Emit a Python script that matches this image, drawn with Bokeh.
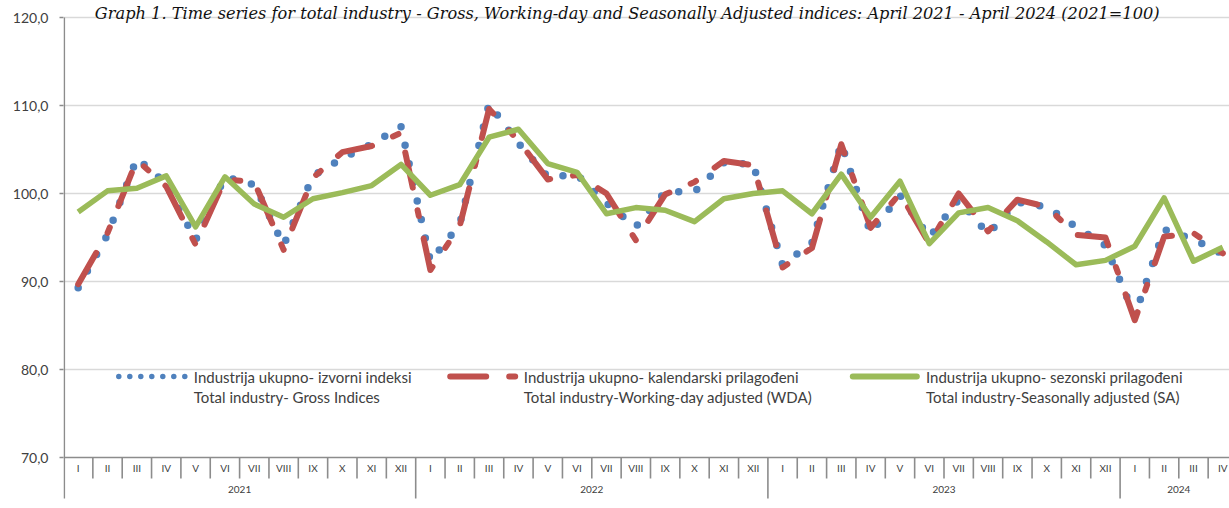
from bokeh.plotting import figure
from bokeh.models import Range1d, FixedTicker
from bokeh.core.properties import value
from bokeh.embed import file_html
from bokeh.resources import INLINE

# ---------------- data ----------------
years = ["2021", "2022", "2023", "2024"]
months_in_year = [12, 12, 12, 4]
roman = ["I", "II", "III", "IV", "V", "VI", "VII", "VIII", "IX", "X", "XI", "XII"]

gross = [89.3, 95.3, 104.0, 101.1, 94.7, 101.9, 101.0, 94.1, 102.0, 104.0, 105.6, 107.6,
         92.3, 96.5, 110.2, 105.7, 101.9, 102.1, 98.9, 96.2, 100.2, 100.2, 103.5, 103.3,
         91.9, 94.4, 105.7, 95.5, 99.8, 95.0, 99.3, 95.4, 99.0, 98.5, 96.2, 94.1,
         86.1, 95.9, 94.8, 93.1]
wda = [89.7, 95.5, 103.8, 100.8, 94.2, 101.6, 101.3, 93.6, 101.8, 104.7, 105.4, 106.9,
       91.3, 96.3, 109.6, 106.0, 101.6, 102.1, 100.0, 94.7, 99.9, 101.3, 103.7, 103.2,
       91.6, 93.8, 105.6, 96.1, 100.0, 94.3, 100.0, 95.7, 99.3, 98.5, 95.3, 95.0,
       85.6, 95.1, 95.5, 93.2]
sa = [97.9, 100.3, 100.6, 102.0, 96.2, 101.9, 98.8, 97.3, 99.4, 100.1, 100.9, 103.3,
      99.8, 101.0, 106.4, 107.3, 103.4, 102.4, 97.7, 98.4, 98.1, 96.8, 99.4, 100.0,
      100.3, 97.7, 102.2, 97.3, 101.4, 94.3, 97.8, 98.4, 96.9, 94.5, 91.9, 92.4,
      94.0, 99.5, 92.3, 93.9]

y_ticks = [70, 80, 90, 100, 110, 120]

title = ("Graph 1. Time series for total industry - Gross, Working-day and Seasonally "
         "Adjusted indices: April 2021 - April 2024 (2021=100)")
legend_l1 = ["Industrija ukupno- izvorni indeksi",
             "Industrija ukupno- kalendarski prilagođeni",
             "Industrija ukupno- sezonski prilagođeni"]
legend_l2 = ["Total industry- Gross Indices",
             "Total industry-Working-day adjusted (WDA)",
             "Total industry-Seasonally adjusted (SA)"]

BLUE, RED, GREEN = "#4f81bd", "#c0504d", "#9bbb59"
AXIS = "#8c8c8c"
GRID = "#d9d9d9"
TXT = "#404040"
FONT = "Lato"

# ---------------- geometry ----------------
W, H = 1229, 508
LEFT = 63
PX_X = 29.35          # pixels per month
PX_Y = 8.8            # pixels per index point
Y_TOP = 120 + 17 / PX_Y
Y_BOT = Y_TOP - H / PX_Y
X_END = -0.5 + (W - LEFT) / PX_X


def px_x(px):
    return -0.5 + (px - LEFT) / PX_X


def px_y(py):
    return Y_TOP - py / PX_Y


n = len(gross)
idx = list(range(n))

p = figure(width=W, height=H, output_backend="svg", toolbar_location=None,
           x_range=Range1d(-0.5, X_END), y_range=Range1d(Y_BOT, Y_TOP),
           x_axis_location=None, min_border_left=LEFT, min_border_right=0,
           min_border_top=0, min_border_bottom=0)
p.outline_line_color = None
p.background_fill_color = "white"
p.border_fill_color = "white"

# y axis
yax = p.yaxis[0]
yax.ticker = FixedTicker(ticks=y_ticks)
yax.major_label_overrides = {t: f"{t},0" for t in y_ticks}
yax.axis_line_color = None
yax.major_tick_out = 4
yax.major_tick_in = 0
yax.minor_tick_line_color = None
yax.major_tick_line_color = AXIS
yax.major_tick_line_width = 1.5
yax.major_label_standoff = 11
yax.major_label_text_font = FONT
yax.major_label_text_font_size = "14px"
yax.major_label_text_color = TXT

p.xgrid.visible = False
p.ygrid.ticker = FixedTicker(ticks=y_ticks[1:])
p.ygrid.grid_line_color = GRID
p.ygrid.grid_line_width = 1.3

# axis lines and category separators
year_starts = []
s = 0
for m in months_in_year:
    year_starts.append(s)
    s += m
p.segment(x0=[-0.5], y0=[70], x1=[X_END], y1=[70], line_color=AXIS, line_width=1.6)
p.segment(x0=[px_x(LEFT + 0.8)], y0=[y_ticks[-1]], x1=[px_x(LEFT + 0.8)], y1=[px_y(498)],
          line_color=AXIS, line_width=1.6)
mx = [k - 0.5 for k in range(1, n) if k not in year_starts]
p.segment(x0=mx, y0=[70] * len(mx), x1=mx, y1=[px_y(478)] * len(mx),
          line_color=AXIS, line_width=1.6)
yx = [k - 0.5 for k in year_starts[1:]]
p.segment(x0=yx, y0=[70] * len(yx), x1=yx, y1=[px_y(498)] * len(yx),
          line_color=AXIS, line_width=1.6)

mlabels = [roman[i % 12] for i in idx]
p.text(x=idx, y=[px_y(467.5)] * n, text=mlabels, text_font=value(FONT),
       text_font_size="10px", text_color=TXT, text_align="center", text_baseline="middle")
ycent = [st + (m - 1) / 2 for st, m in zip(year_starts, months_in_year)]
p.text(x=ycent, y=[px_y(489)] * len(years), text=years, text_font=value(FONT),
       text_font_size="10px", text_color=TXT, text_align="center", text_baseline="middle")

# series
p.line(idx, gross, line_color=BLUE, line_width=7.5, line_dash="0 19", line_cap="round",
       line_join="round")
p.line(idx, wda, line_color=RED, line_width=6, line_dash="36 23 6 23", line_cap="round",
       line_join="round")
p.line(idx, sa, line_color=GREEN, line_width=5.5, line_join="round")

# legend (drawn manually, three columns, two text lines each)
ly = px_y(376)
p.line([px_x(118.3), px_x(184.5)], [ly, ly], line_color=BLUE, line_width=5.5,
       line_dash="0 11", line_cap="round")
p.line([px_x(449.7), px_x(514.7)], [ly, ly], line_color=RED, line_width=6,
       line_dash="36 23 6 23", line_cap="round")
p.line([px_x(852.3), px_x(916.3)], [ly, ly], line_color=GREEN, line_width=6,
       line_cap="round")
tx = [px_x(193.3), px_x(523.3), px_x(925.5)]
p.text(x=tx, y=[px_y(376.5)] * 3, text=legend_l1, text_font=value(FONT),
       text_font_size="15px", text_color=TXT, text_align="left", text_baseline="middle")
p.text(x=tx, y=[px_y(396.5)] * 3, text=legend_l2, text_font=value(FONT),
       text_font_size="15px", text_color=TXT, text_align="left", text_baseline="middle")

# title
p.text(x=[px_x(626.7)], y=[px_y(13.0)], text=[title], text_font=value("DejaVu Serif"),
       text_font_style="italic", text_font_size="16.2px", text_color="#111111",
       text_align="center", text_baseline="alphabetic")

open("out.html", "w").write(file_html(p, INLINE))
